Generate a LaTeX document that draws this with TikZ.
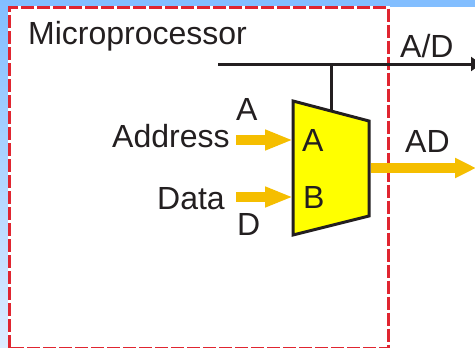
\documentclass[tikz,border=0pt]{standalone}
\usepackage{fontspec}
\setmainfont{Liberation Sans}
\usetikzlibrary{arrows.meta,calc}
\definecolor{ink}{HTML}{231F20}
\definecolor{bustop}{RGB}{130,190,255}
\definecolor{busbot}{RGB}{222,236,255}
\definecolor{dashred}{HTML}{E02530}
\definecolor{flow}{HTML}{F5BE00}
\definecolor{muxfill}{HTML}{FFFF00}
\tikzset{
  lbl/.style={font=\fontsize{32}{32}\selectfont, text=ink, inner sep=0pt, anchor=base west},
  wire/.style={draw=ink, line width=3pt},
  flowarrow/.style={draw=flow, line width=10pt, -{Triangle[length=28pt,width=19pt]}},
  outarrow/.style={draw=flow, line width=10pt, -{Triangle[length=21pt,width=19pt]}},
}
\begin{document}
\begin{tikzpicture}[x=1pt,y=-1pt]
\useasboundingbox (0,0) rectangle (475,348);
% background
\fill[white] (0,0) rectangle (475,348);
\fill[bustop] (0,0) rectangle (475,6.5);
\shade[top color=bustop,bottom color=busbot] (0,0) rectangle (8.5,348);
% dashed boundary
\begin{scope}
\clip (0,0) rectangle (475,348);
\draw[white,line width=4pt] (9.5,7.5) rectangle (388,348);
\draw[dashred,line width=3pt,dash pattern=on 13pt off 3pt] (9.5,348) -- (9.5,7.5) -- (388,7.5) -- (388,348) -- cycle;
\end{scope}
% coordinates
\coordinate (busL) at (218,64);
\coordinate (busR) at (481,64);
\coordinate (tap) at (331,64);
\coordinate (inA) at (236,140);
\coordinate (inB) at (236,197);
\coordinate (outS) at (371,168);
\coordinate (outE) at (476,168);
% mux
\coordinate (m1) at (293,101);
\coordinate (m2) at (369,121);
\coordinate (m3) at (369,216);
\coordinate (m4) at (293,235);
\coordinate (muxtop) at (331,111);
\coordinate (muxA) at (293,140);
\coordinate (muxB) at (293,197);
% bus
\draw[wire,-{Triangle[length=10pt,width=14pt]}] (busL) -- (busR);
\draw[wire] (tap) -- (muxtop);
% orange
\draw[outarrow] (outS) -- (outE);
\draw[wire,fill=muxfill,line join=miter] (m1) -- (m2) -- (m3) -- (m4) -- cycle;
\draw[flowarrow] (inA) -- (muxA);
\draw[flowarrow] (inB) -- (muxB);
% labels
\node[lbl] (title) at (28,45) {Microprocessor};
\node[lbl] (ad1) at (400,57) {A/D};
\node[lbl] (addr) at (112,147) {Address};
\node[lbl] (data) at (157,209) {Data};
\node[lbl] (la) at (236,121) {A};
\node[lbl] (ld) at (237,235) {D};
\node[lbl] (ma) at (302,151) {A};
\node[lbl] (mb) at (303,208) {B};
\node[lbl] (ad2) at (405,152) {AD};
\end{tikzpicture}
\end{document}
